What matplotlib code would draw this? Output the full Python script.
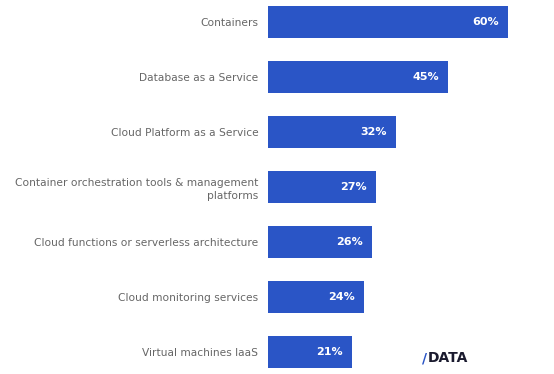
import numpy as np
from matplotlib import pyplot as plt

# survey data
categories = ['Containers', 'Database as a Service', 'Cloud Platform as a Service',
              'Container orchestration tools & management\nplatforms',
              'Cloud functions or serverless architecture',
              'Cloud monitoring services', 'Virtual machines IaaS']
values = [60, 45, 32, 27, 26, 24, 21]

bar_color = '#2A55C6'
text_color = '#666666'

fig = plt.figure(figsize=(5.54, 3.74), dpi=100)
ax = fig.add_axes([268/554, 0, 276/554, 1])

ypos = np.arange(len(categories))
ax.barh(ypos, values, height=0.58, color=bar_color)
ax.set_xlim(0, 69)
ax.set_ylim(len(categories) - 0.6, -0.4)

# value labels inside the bars
for y, v in zip(ypos, values):
    ax.text(v - 2.2, y, f'{v}%', ha='right', va='center', color='white',
            fontsize=8, fontweight='bold')

ax.set_yticks(ypos)
ax.set_yticklabels(categories, fontsize=7.7, color=text_color, ha='right',
                   linespacing=1.35)
ax.tick_params(axis='y', length=0, pad=7)
ax.set_xticks([])
for s in ax.spines.values():
    s.set_visible(False)

# logo
fig.text(422/554, 1 - 358/374, '/', color=bar_color, fontsize=10,
         fontweight='bold', va='center', ha='left')
fig.text(428/554, 1 - 358/374, 'DATA', color='#1a1a2e', fontsize=10,
         fontweight='bold', va='center', ha='left')

plt.savefig('out.png')
